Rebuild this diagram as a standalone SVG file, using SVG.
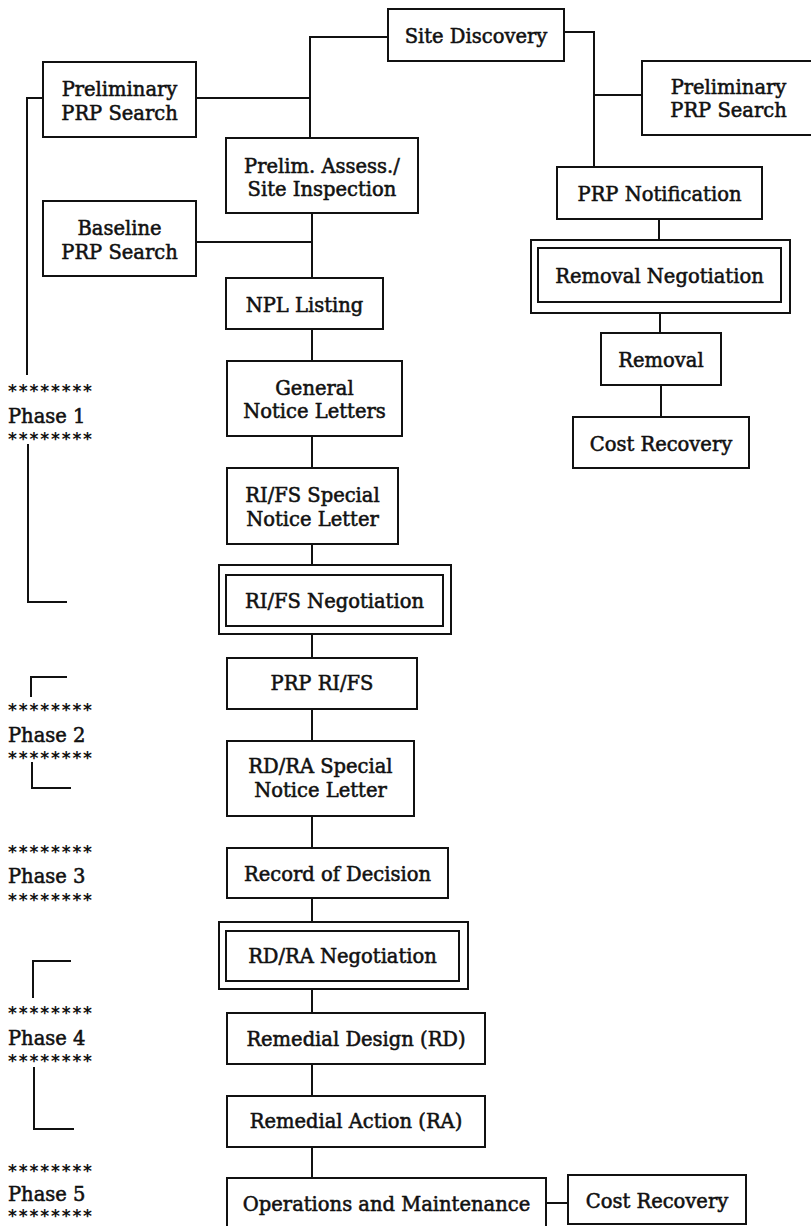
<svg xmlns="http://www.w3.org/2000/svg" width="811" height="1226" viewBox="0 0 811 1226">
  <style>
    .box { fill: #fff; stroke: #111; stroke-width: 2; }
    .wire { fill: none; stroke: #111; stroke-width: 2; }
    .lbl { font-family: "DejaVu Serif", "Liberation Serif", serif; font-size: 19.5px; fill: #111; text-anchor: middle; stroke: #111; stroke-width: 0.55; }
    .phase { font-family: "DejaVu Serif", "Liberation Serif", serif; font-size: 19.5px; fill: #111; stroke: #111; stroke-width: 0.55; }
    .stars { font-family: "DejaVu Sans", sans-serif; font-size: 17px; font-weight: bold; fill: #111; }
  </style>
  <rect width="811" height="1226" fill="#fff"/>

  <!-- connectors -->
  <g id="connectors" class="wire">
    <polyline points="388,37 310,37 310,138"/>
    <line x1="196" y1="98" x2="310" y2="98"/>
    <polyline points="43,98 27,98 27,375"/>
    <polyline points="28,444 28,602 67,602"/>
    <line x1="312" y1="213" x2="312" y2="278"/>
    <line x1="196" y1="242" x2="312" y2="242"/>
    <line x1="312" y1="329" x2="312" y2="361"/>
    <line x1="312" y1="436" x2="312" y2="468"/>
    <line x1="312" y1="544" x2="312" y2="575"/>
    <line x1="312" y1="626" x2="312" y2="658"/>
    <line x1="312" y1="709" x2="312" y2="741"/>
    <line x1="312" y1="816" x2="312" y2="848"/>
    <line x1="312" y1="898" x2="312" y2="931"/>
    <line x1="312" y1="981" x2="312" y2="1013"/>
    <line x1="312" y1="1064" x2="312" y2="1096"/>
    <line x1="312" y1="1147" x2="312" y2="1178"/>
    <line x1="546" y1="1203" x2="568" y2="1203"/>
    <polyline points="564,32 594,32 594,167"/>
    <line x1="594" y1="95" x2="642" y2="95"/>
    <line x1="659" y1="219" x2="659" y2="248"/>
    <line x1="660" y1="302" x2="660" y2="333"/>
    <line x1="661" y1="385" x2="661" y2="417"/>
    <!-- phase brackets -->
    <polyline points="67,677 31,677 31,697"/>
    <polyline points="32,762 32,788 71,788"/>
    <polyline points="71,961 33,961 33,998"/>
    <polyline points="34,1067 34,1129 74,1129"/>
  </g>

  <!-- main column -->
  <g id="site-discovery">
    <rect class="box" x="388" y="9" width="176" height="52"/>
    <text class="lbl" x="476" y="43">Site Discovery</text>
  </g>
  <g id="prelim-prp-search-left">
    <rect class="box" x="43" y="62" width="153" height="75"/>
    <text class="lbl" x="119.5" y="96">Preliminary</text>
    <text class="lbl" x="119.5" y="120">PRP Search</text>
  </g>
  <g id="prelim-assessment">
    <rect class="box" x="226" y="138" width="192" height="75"/>
    <text class="lbl" x="322" y="173">Prelim. Assess./</text>
    <text class="lbl" x="322" y="196">Site Inspection</text>
  </g>
  <g id="baseline-prp-search">
    <rect class="box" x="43" y="201" width="153" height="75"/>
    <text class="lbl" x="119.5" y="235">Baseline</text>
    <text class="lbl" x="119.5" y="259">PRP Search</text>
  </g>
  <g id="npl-listing">
    <rect class="box" x="226" y="278" width="157" height="51"/>
    <text class="lbl" x="304.5" y="312">NPL Listing</text>
  </g>
  <g id="general-notice-letters">
    <rect class="box" x="227" y="361" width="175" height="75"/>
    <text class="lbl" x="314.5" y="395">General</text>
    <text class="lbl" x="314.5" y="418">Notice Letters</text>
  </g>
  <g id="rifs-special-notice">
    <rect class="box" x="227" y="468" width="171" height="76"/>
    <text class="lbl" x="312.5" y="502">RI/FS Special</text>
    <text class="lbl" x="312.5" y="526">Notice Letter</text>
  </g>
  <g id="rifs-negotiation">
    <rect class="box" x="219" y="565" width="232" height="69"/>
    <rect class="box" x="226" y="575" width="217" height="51"/>
    <text class="lbl" x="334.5" y="608">RI/FS Negotiation</text>
  </g>
  <g id="prp-rifs">
    <rect class="box" x="227" y="658" width="190" height="51"/>
    <text class="lbl" x="322" y="690">PRP RI/FS</text>
  </g>
  <g id="rdra-special-notice">
    <rect class="box" x="227" y="741" width="187" height="75"/>
    <text class="lbl" x="320.5" y="773">RD/RA Special</text>
    <text class="lbl" x="320.5" y="797">Notice Letter</text>
  </g>
  <g id="record-of-decision">
    <rect class="box" x="227" y="848" width="221" height="50"/>
    <text class="lbl" x="337.5" y="881">Record of Decision</text>
  </g>
  <g id="rdra-negotiation">
    <rect class="box" x="219" y="922" width="249" height="67"/>
    <rect class="box" x="226" y="931" width="233" height="50"/>
    <text class="lbl" x="342.5" y="963">RD/RA Negotiation</text>
  </g>
  <g id="remedial-design">
    <rect class="box" x="227" y="1013" width="258" height="51"/>
    <text class="lbl" x="356" y="1046">Remedial Design (RD)</text>
  </g>
  <g id="remedial-action">
    <rect class="box" x="227" y="1096" width="258" height="51"/>
    <text class="lbl" x="356" y="1128">Remedial Action (RA)</text>
  </g>
  <g id="operations-maintenance">
    <rect class="box" x="227" y="1178" width="319" height="60"/>
    <text class="lbl" x="386.5" y="1211">Operations and Maintenance</text>
  </g>
  <g id="cost-recovery-final">
    <rect class="box" x="568" y="1175" width="178" height="49"/>
    <text class="lbl" x="657" y="1208">Cost Recovery</text>
  </g>

  <!-- removal branch -->
  <g id="prelim-prp-search-right">
    <rect class="box" x="642" y="61" width="175" height="74"/>
    <text class="lbl" x="728.5" y="94">Preliminary</text>
    <text class="lbl" x="728.5" y="117">PRP Search</text>
  </g>
  <g id="prp-notification">
    <rect class="box" x="557" y="167" width="205" height="52"/>
    <text class="lbl" x="659.5" y="201">PRP Notification</text>
  </g>
  <g id="removal-negotiation">
    <rect class="box" x="531" y="240" width="259" height="73"/>
    <rect class="box" x="538" y="248" width="243" height="54"/>
    <text class="lbl" x="659.5" y="283">Removal Negotiation</text>
  </g>
  <g id="removal">
    <rect class="box" x="601" y="333" width="120" height="52"/>
    <text class="lbl" x="661" y="367">Removal</text>
  </g>
  <g id="cost-recovery-removal">
    <rect class="box" x="573" y="417" width="176" height="51"/>
    <text class="lbl" x="661" y="451">Cost Recovery</text>
  </g>

  <!-- phase markers -->
  <g id="phase-1">
    <text class="stars" x="8" y="397" textLength="84" lengthAdjust="spacing">********</text>
    <text class="phase" x="8" y="422.5">Phase 1</text>
    <text class="stars" x="8" y="445" textLength="84" lengthAdjust="spacing">********</text>
  </g>
  <g id="phase-2">
    <text class="stars" x="8" y="716" textLength="84" lengthAdjust="spacing">********</text>
    <text class="phase" x="8" y="741.5">Phase 2</text>
    <text class="stars" x="8" y="764" textLength="84" lengthAdjust="spacing">********</text>
  </g>
  <g id="phase-3">
    <text class="stars" x="8" y="858" textLength="84" lengthAdjust="spacing">********</text>
    <text class="phase" x="8" y="883">Phase 3</text>
    <text class="stars" x="8" y="906" textLength="84" lengthAdjust="spacing">********</text>
  </g>
  <g id="phase-4">
    <text class="stars" x="8" y="1019" textLength="84" lengthAdjust="spacing">********</text>
    <text class="phase" x="8" y="1044.5">Phase 4</text>
    <text class="stars" x="8" y="1067" textLength="84" lengthAdjust="spacing">********</text>
  </g>
  <g id="phase-5">
    <text class="stars" x="8" y="1177" textLength="84" lengthAdjust="spacing">********</text>
    <text class="phase" x="8" y="1200.5">Phase 5</text>
    <text class="stars" x="8" y="1221.5" textLength="84" lengthAdjust="spacing">********</text>
  </g>
</svg>
